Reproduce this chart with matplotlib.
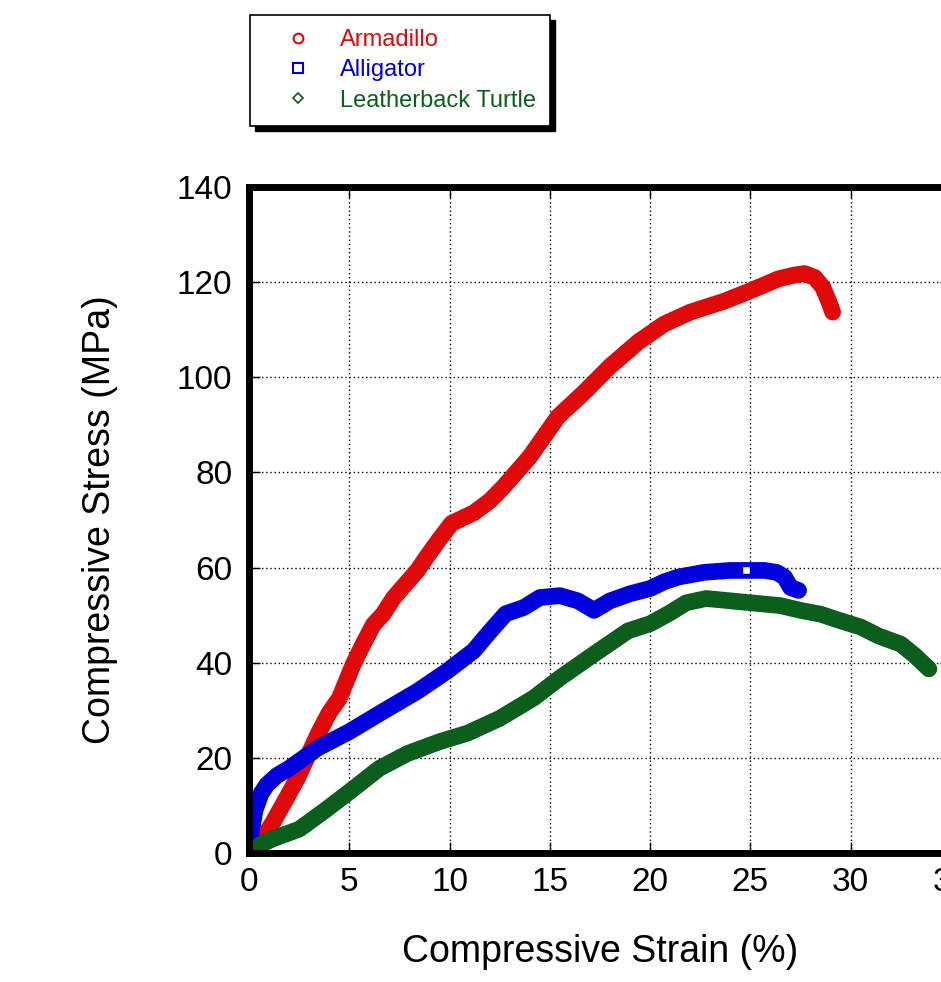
import matplotlib
matplotlib.use("Agg")
import matplotlib.pyplot as plt
from matplotlib.patches import Rectangle

plt.rcParams['font.family'] = ['Liberation Sans', 'DejaVu Sans']

# curves: strain (%), stress (MPa)
armadillo_x = [0.2, 0.6, 1.2, 1.8, 2.4, 3.0, 3.5, 4.0, 4.5, 5.2, 5.7, 6.2, 6.7, 7.2, 7.9, 8.4, 8.9,
               9.5, 10.1, 11.2, 12.0, 12.7, 14.0, 15.4, 16.7, 18.0, 19.4, 20.7, 22.0, 23.7, 25.0,
               26.4, 27.2, 27.7, 28.2, 28.6, 28.9, 29.1]
armadillo_y = [0, 2.5, 6.5, 11, 15.6, 21, 25.5, 29.5, 32.5, 39.7, 44, 48, 50.3, 53.6, 57, 59.4, 62.5,
               66, 69.3, 71.5, 74, 77, 83.3, 91.7, 96.8, 102.3, 107.4, 111.2, 113.7, 116, 118.2,
               120.7, 121.5, 121.8, 121, 119, 116, 113.7]

alligator_x = [0, 0.1, 0.3, 0.6, 0.9, 1.4, 2.0, 3.4, 5.0, 6.7, 8.4, 9.9, 11.2, 12.0, 12.8, 13.7,
               14.5, 15.5, 16.4, 17.2, 18.0, 19.0, 20.0, 20.7, 21.4, 22.7, 24.0, 25.7, 26.3,
               26.7, 27.0, 27.4]
alligator_y = [0, 4, 9, 12.5, 14.4, 16.3, 17.8, 22, 25.5, 29.8, 34, 38.3, 42.5, 46.5, 50.3, 51.6,
               53.7, 54.1, 53, 51, 53, 54.5, 55.6, 57, 58, 59, 59.4, 59.4, 59, 58, 55.8, 55.2]

turtle_x = [0, 0.6, 1.2, 2.5, 3.9, 5.2, 6.5, 7.9, 9.5, 10.9, 12.5, 14.2, 15.5, 17.2, 18.9, 20.0,
            21.0, 21.8, 22.8, 25.0, 26.5, 27.5, 28.5, 29.5, 30.5, 31.4, 32.5, 33.2, 33.9]
turtle_y = [0, 1.8, 3, 5, 9.3, 13.5, 17.8, 20.9, 23.4, 25.2, 28.3, 32.6, 36.8, 41.8, 46.7, 48.2,
            50.5, 52.6, 53.5, 52.6, 52, 51, 50.2, 48.8, 47.5, 45.6, 43.9, 41.5, 38.7]

red = '#e00808'
blue = '#0000dd'
green = '#0b5e1c'

fig = plt.figure(figsize=(9.41, 9.82), dpi=100)
ax = fig.add_axes([249/941, 129/982, 702/941, 666/982])

ax.plot(armadillo_x, armadillo_y, color=red, lw=12, solid_capstyle='round',
        solid_joinstyle='round', zorder=3)
ax.plot(alligator_x, alligator_y, color=blue, lw=12, solid_capstyle='round',
        solid_joinstyle='round', zorder=3)
ax.plot(turtle_x, turtle_y, color=green, lw=12, solid_capstyle='round',
        solid_joinstyle='round', zorder=3)
ax.plot([24.8], [59.5], 's', ms=6, mfc='white', mec=blue, mew=1, zorder=4)

ax.set_xlim(0, 35)
ax.set_ylim(0, 140)
ax.set_xticks(range(0, 36, 5))
ax.set_yticks(range(0, 141, 20))
ax.grid(True, color='black', linestyle=(0, (1, 2)), linewidth=1)
ax.tick_params(direction='in', length=8, width=1, labelsize=24, top=True, right=True)
ax.tick_params(axis='x', pad=10)
ax.tick_params(axis='y', pad=12)
for s in ax.spines.values():
    s.set_linewidth(5)
    s.set_zorder(5)

ax.set_xlabel('Compressive Strain (%)', fontsize=27, labelpad=26)
ax.set_ylabel('Compressive Stress (MPa)', fontsize=27, labelpad=42)

# legend with hollow markers, like the original
h1, = ax.plot([], [], 'o', ms=7, mfc='none', mec=red, mew=1.5)
h2, = ax.plot([], [], 's', ms=7, mfc='none', mec=blue, mew=1.5)
h3, = ax.plot([], [], 'D', ms=5.5, mfc='none', mec=green, mew=1.2)
leg = fig.legend([h1, h2, h3], ['Armadillo', 'Alligator', 'Leatherback Turtle'],
                 loc='upper left', bbox_to_anchor=(250/941, 1 - 15/982), borderaxespad=0,
                 fontsize=17, handlelength=2.9, handletextpad=0.3, labelspacing=0.35,
                 borderpad=0.6, fancybox=False, framealpha=1, edgecolor='black')
leg.get_frame().set_linewidth(1.2)
for t, c in zip(leg.get_texts(), [red, blue, green]):
    t.set_color(c)

# hard black drop shadow behind the legend box
fig.canvas.draw()
bb = leg.get_window_extent()
shadow = Rectangle((bb.x0 + 5, bb.y0 - 5), bb.width, bb.height, transform=None,
                   facecolor='black', edgecolor='black', zorder=leg.get_zorder() - 1)
fig.patches.append(shadow)

fig.savefig('out.png', dpi=100)
